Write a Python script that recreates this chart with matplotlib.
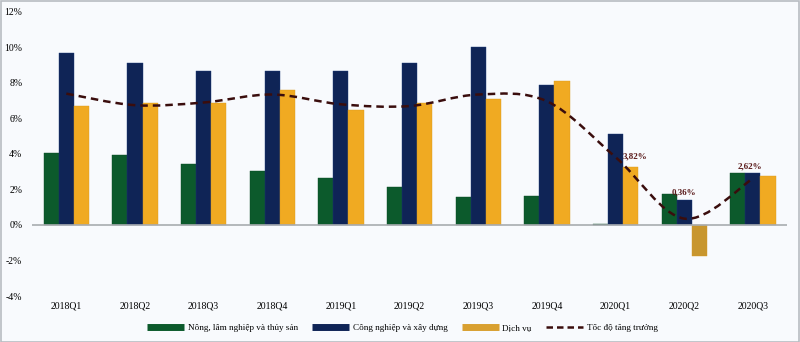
import matplotlib
matplotlib.use("Agg")
import matplotlib.pyplot as plt
import numpy as np
from matplotlib.path import Path
from matplotlib.patches import PathPatch, Rectangle
from matplotlib.lines import Line2D

categories = ["2018Q1", "2018Q2", "2018Q3", "2018Q4", "2019Q1", "2019Q2",
              "2019Q3", "2019Q4", "2020Q1", "2020Q2", "2020Q3"]
nong_nghiep = [4.05, 3.95, 3.45, 3.05, 2.65, 2.15, 1.55, 1.65, 0.08, 1.72, 2.93]
cong_nghiep = [9.7, 9.1, 8.65, 8.65, 8.65, 9.15, 10.05, 7.9, 5.15, 1.38, 2.95]
dich_vu = [6.7, 6.9, 6.85, 7.6, 6.5, 6.85, 7.1, 8.1, 3.27, -1.76, 2.75]
tang_truong = [7.4, 6.75, 6.9, 7.35, 6.8, 6.7, 7.35, 6.97, 3.82, 0.36, 2.62]
label_text = {8: "3,82%", 9: "0,36%", 10: "2,62%"}
yticks = [-4, -2, 0, 2, 4, 6, 8, 10, 12]

c_green = "#0c5a2c"
c_navy = "#0f2456"
c_orange = "#f0aa22"
c_orange_neg = "#c8962e"
c_line = "#3a0d0d"
bg = "#f8fafd"

plt.rcParams['font.family'] = ['Liberation Serif', 'DejaVu Serif']

fig = plt.figure(figsize=(8, 3.42), dpi=100, facecolor=bg)
ax = fig.add_axes([0.04, 0.1345, 0.944, 0.8305], facecolor=bg)
fig.patches.append(Rectangle((0.001, 0.001), 0.998, 0.997, transform=fig.transFigure,
                             fill=False, edgecolor="#b8bcc2", linewidth=1.2))

x = np.arange(len(categories))
w = 0.22
ax.bar(x - w, nong_nghiep, w, color=c_green, edgecolor="#0a4a24", linewidth=0.3)
ax.bar(x, cong_nghiep, w, color=c_navy, edgecolor="#1b3a7a", linewidth=0.3)
ocolors = [c_orange if v >= 0 else c_orange_neg for v in dich_vu]
ax.bar(x + w, dich_vu, w, color=ocolors, edgecolor="#d89a20", linewidth=0.3)

# smoothed line (Catmull-Rom style Bezier, like Excel's smoothed line)
pts = np.column_stack([x, tang_truong])
verts = [tuple(pts[0])]
codes = [Path.MOVETO]
t = 1.0 / 6.0
for i in range(len(pts) - 1):
    p0 = pts[i - 1] if i > 0 else pts[i]
    p1 = pts[i]
    p2 = pts[i + 1]
    p3 = pts[i + 2] if i + 2 < len(pts) else pts[i + 1]
    c1 = p1 + (p2 - p0) * t
    c2 = p2 - (p3 - p1) * t
    verts += [tuple(c1), tuple(c2), tuple(p2)]
    codes += [Path.CURVE4] * 3
ax.add_patch(PathPatch(Path(verts, codes), fill=False, edgecolor=c_line,
                       linewidth=1.8, linestyle=(0, (3, 2)), zorder=5))

offsets = {8: (0.29, 0.03), 9: (0.0, 1.45), 10: (-0.05, 0.7)}
for i, s in label_text.items():
    dx, dy = offsets[i]
    ax.text(x[i] + dx, tang_truong[i] + dy, s, ha="center", va="center",
            fontsize=6.5, fontweight="bold", color="#5a1a1a", zorder=6)

ax.axhline(0, color="#a8acb0", linewidth=1.2, zorder=1)
ax.set_xlim(-0.5, len(categories) - 0.5)
ax.set_ylim(-4, 12)
ax.set_yticks(yticks)
ax.set_yticklabels([f"{v}%" for v in yticks], fontsize=7)
ax.set_xticks(x)
ax.set_xticklabels(categories, fontsize=7)
ax.tick_params(length=0, pad=4)
ax.tick_params(axis="y", pad=7)
for sp in ax.spines.values():
    sp.set_visible(False)

handles = [
    Line2D([0], [0], color=c_green, linewidth=5, solid_capstyle="butt"),
    Line2D([0], [0], color=c_navy, linewidth=5, solid_capstyle="butt"),
    Line2D([0], [0], color="#d9a030", linewidth=5, solid_capstyle="butt"),
    Line2D([0], [0], color=c_line, linewidth=1.8, linestyle=(0, (2.6, 1.6))),
]
labels = ["Nông, lâm nghiệp và thủy sản", "Công nghiệp và xây dựng", "Dịch vụ", "Tốc độ tăng trưởng"]
fig.legend(handles, labels, loc="center", bbox_to_anchor=(0.503, 0.041), ncol=4,
           frameon=False, fontsize=6.6, handlelength=4.0, handletextpad=0.4,
           columnspacing=1.6)

fig.savefig("out.png", dpi=100, facecolor=bg)
